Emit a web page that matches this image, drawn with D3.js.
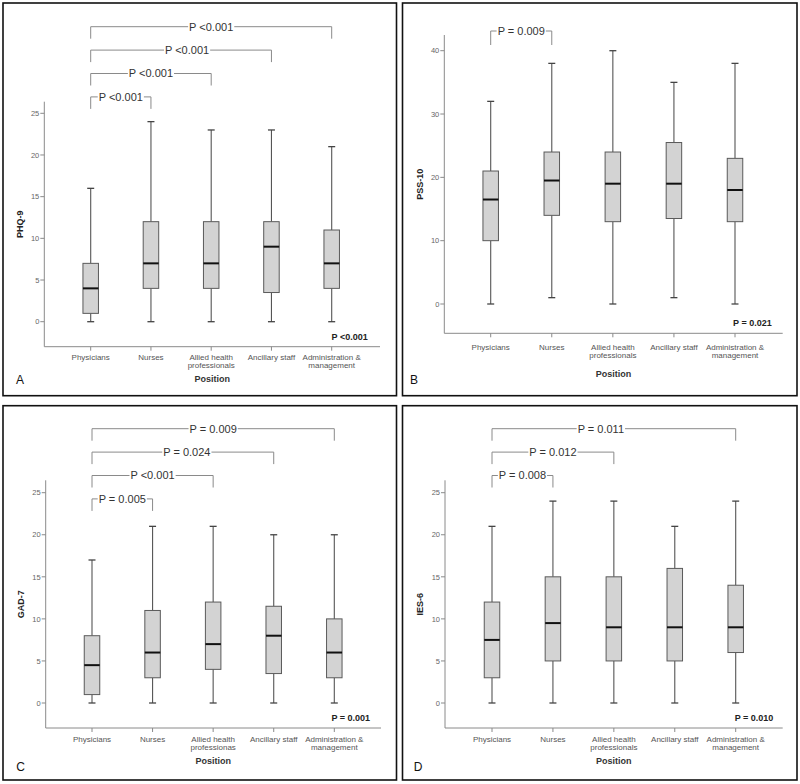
<!DOCTYPE html>
<html>
<head>
<meta charset="utf-8">
<script src="https://cdn.jsdelivr.net/npm/d3@7"></script>
<style>
html,body{margin:0;padding:0;background:#fff;}
svg{display:block;font-family:"Liberation Sans",Arial,sans-serif;}
</style>
</head>
<body>
<svg id="chart" width="800" height="784"></svg>
<script>
// ---------- DATA ----------
const categories = ["Physicians","Nurses","Allied health professionals","Ancillary staff","Administration & management"];
const categoryLabels = [["Physicians"],["Nurses"],["Allied health","professionals"],["Ancillary staff"],["Administration &","management"]];
const categoryLabelsC = [["Physicians"],["Nurses"],["Allied health","professionas"],["Ancillary staff"],["Administration &","management"]];

const phq9Min    = [0,0,0,0,0];
const phq9Q1     = [1,4,4,3.5,4];
const phq9Median = [4,7,7,9,7];
const phq9Q3     = [7,12,12,12,11];
const phq9Max    = [16,24,23,23,21];
const phq9Ticks  = [0,5,10,15,20,25];
const phq9Compare  = ["Nurses","Allied health professionals","Ancillary staff","Administration & management"];
const phq9CompareP = ["P <0.001","P <0.001","P <0.001","P <0.001"];
const phq9Overall  = "P <0.001";

const pss10Min    = [0,1,0,1,0];
const pss10Q1     = [10,14,13,13.5,13];
const pss10Median = [16.5,19.5,19,19,18];
const pss10Q3     = [21,24,24,25.5,23];
const pss10Max    = [32,38,40,35,38];
const pss10Ticks  = [0,10,20,30,40];
const pss10Compare  = ["Nurses"];
const pss10CompareP = ["P = 0.009"];
const pss10Overall  = "P = 0.021";

const gad7Min    = [0,0,0,0,0];
const gad7Q1     = [1,3,4,3.5,3];
const gad7Median = [4.5,6,7,8,6];
const gad7Q3     = [8,11,12,11.5,10];
const gad7Max    = [17,21,21,20,20];
const gad7Ticks  = [0,5,10,15,20,25];
const gad7Compare  = ["Nurses","Allied health professionals","Ancillary staff","Administration & management"];
const gad7CompareP = ["P = 0.005","P <0.001","P = 0.024","P = 0.009"];
const gad7Overall  = "P = 0.001";

const ies6Min    = [0,0,0,0,0];
const ies6Q1     = [3,5,5,5,6];
const ies6Median = [7.5,9.5,9,9,9];
const ies6Q3     = [12,15,15,16,14];
const ies6Max    = [21,24,24,21,24];
const ies6Ticks  = [0,5,10,15,20,25];
const ies6Compare  = ["Nurses","Allied health professionals","Administration & management"];
const ies6CompareP = ["P = 0.008","P = 0.012","P = 0.011"];
const ies6Overall  = "P = 0.010";

const baseGroup = "Physicians";

// ---------- LAYOUT ----------
const panels = [
  {letter:"A", ylab:"PHQ-9", labels:categoryLabels,
   min:phq9Min,q1:phq9Q1,med:phq9Median,q3:phq9Q3,max:phq9Max,ticks:phq9Ticks,
   cmp:phq9Compare,cmpP:phq9CompareP,overall:phq9Overall,
   box:[3,3,396.5,395.7], ax:44.3, top:101.7, bottom:346.7, right:380,
   yv:[0,25], yp:[321.7,113.3], xr:[90.7,331.7], brTop:26.7, leg:12, brDx:[0,0,6,0],
   catDy:10, posDy:32.3, letterXY:[20,384], ylabX:20, pX:367.7},
  {letter:"B", ylab:"PSS-10", labels:categoryLabels,
   min:pss10Min,q1:pss10Q1,med:pss10Median,q3:pss10Q3,max:pss10Max,ticks:pss10Ticks,
   cmp:pss10Compare,cmpP:pss10CompareP,overall:pss10Overall,
   box:[402.5,3,797,395.7], ax:444.3, top:35, bottom:333.3, right:782.7,
   yv:[0,40], yp:[304,50.7], xr:[490.7,735], brTop:31, leg:14, brDx:[0],
   catDy:13.4, posDy:40, letterXY:[414,384], ylabX:420, pX:771.7},
  {letter:"C", ylab:"GAD-7", labels:categoryLabelsC,
   min:gad7Min,q1:gad7Q1,med:gad7Median,q3:gad7Q3,max:gad7Max,ticks:gad7Ticks,
   cmp:gad7Compare,cmpP:gad7CompareP,overall:gad7Overall,
   box:[3,405.7,396.5,780], ax:45.7, top:480.3, bottom:728, right:381,
   yv:[0,25], yp:[703,492.7], xr:[92,334.3], brTop:428.7, leg:12, brDx:[0,0,4,0],
   catDy:10.7, posDy:33, letterXY:[20.7,771], ylabX:20.7, pX:370},
  {letter:"D", ylab:"IES-6", labels:categoryLabels,
   min:ies6Min,q1:ies6Q1,med:ies6Median,q3:ies6Q3,max:ies6Max,ticks:ies6Ticks,
   cmp:ies6Compare,cmpP:ies6CompareP,overall:ies6Overall,
   box:[402.5,405.7,797,780], ax:445, top:480.3, bottom:728, right:782.7,
   yv:[0,25], yp:[703,492.7], xr:[492,735.7], brTop:428.7, leg:12, brDx:[0,0,-13],
   catDy:10.7, posDy:33, letterXY:[418,771], ylabX:420, pX:773.3}
];

const svg = d3.select("#chart");
const axisColor = "#8a8a8a", tickText = "#666";
const boxW = 15.5, capW = 7, brStep = 23.4;

panels.forEach(p => {
  const g = svg.append("g");
  g.append("rect").attr("x",p.box[0]).attr("y",p.box[1])
    .attr("width",p.box[2]-p.box[0]).attr("height",p.box[3]-p.box[1])
    .attr("fill","none").attr("stroke","#111").attr("stroke-width",1.6);

  const x = d3.scalePoint().domain(categories).range(p.xr);
  const y = d3.scaleLinear().domain(p.yv).range(p.yp);

  g.append("path").attr("d",`M${p.ax},${p.top}V${p.bottom}H${p.right}`)
    .attr("fill","none").attr("stroke",axisColor).attr("stroke-width",1);
  p.ticks.forEach(t => {
    g.append("line").attr("x1",p.ax-4).attr("x2",p.ax).attr("y1",y(t)).attr("y2",y(t))
      .attr("stroke",axisColor);
    g.append("text").attr("x",p.ax-5).attr("y",y(t)+2.7).attr("text-anchor","end")
      .attr("font-size",7.5).attr("fill",tickText).text(t);
  });
  categories.forEach((c,i) => {
    const cx = x(c);
    g.append("line").attr("x1",cx).attr("x2",cx).attr("y1",p.bottom).attr("y2",p.bottom+4)
      .attr("stroke",axisColor);
    p.labels[i].forEach((ln,j) => {
      g.append("text").attr("x",cx).attr("y",p.bottom+p.catDy+2.9+j*8.3)
        .attr("text-anchor","middle").attr("font-size",8).attr("fill","#555").text(ln);
    });
  });
  g.append("text").attr("x",(p.ax+p.right)/2).attr("y",p.bottom+p.posDy+3.2)
    .attr("text-anchor","middle").attr("font-size",9).attr("font-weight","bold").attr("fill","#333")
    .text("Position");
  const ymid = (p.top+p.bottom)/2;
  g.append("text").attr("transform",`translate(${p.ylabX+3.2},${ymid}) rotate(-90)`)
    .attr("text-anchor","middle").attr("font-size",9).attr("font-weight","bold").attr("fill","#222")
    .text(p.ylab);
  g.append("text").attr("x",p.letterXY[0]).attr("y",p.letterXY[1])
    .attr("text-anchor","middle").attr("font-size",12).attr("fill","#111").text(p.letter);
  g.append("text").attr("x",p.pX).attr("y",p.bottom-7).attr("text-anchor","end")
    .attr("font-size",9).attr("font-weight","bold").attr("fill","#222").text(p.overall);

  categories.forEach((c,i) => {
    const cx = x(c);
    const wc = "#555";
    g.append("line").attr("x1",cx).attr("x2",cx).attr("y1",y(p.max[i])).attr("y2",y(p.q3[i])).attr("stroke",wc).attr("stroke-width",1.1);
    g.append("line").attr("x1",cx).attr("x2",cx).attr("y1",y(p.q1[i])).attr("y2",y(p.min[i])).attr("stroke",wc).attr("stroke-width",1.1);
    g.append("line").attr("x1",cx-capW/2).attr("x2",cx+capW/2).attr("y1",y(p.max[i])).attr("y2",y(p.max[i])).attr("stroke","#444").attr("stroke-width",1.3);
    g.append("line").attr("x1",cx-capW/2).attr("x2",cx+capW/2).attr("y1",y(p.min[i])).attr("y2",y(p.min[i])).attr("stroke","#444").attr("stroke-width",1.3);
    g.append("rect").attr("x",cx-boxW/2).attr("y",y(p.q3[i])).attr("width",boxW)
      .attr("height",y(p.q1[i])-y(p.q3[i])).attr("fill","#d3d3d3").attr("stroke","#5a5a5a").attr("stroke-width",1);
    g.append("line").attr("x1",cx-boxW/2).attr("x2",cx+boxW/2).attr("y1",y(p.med[i])).attr("y2",y(p.med[i]))
      .attr("stroke","#111").attr("stroke-width",2);
  });

  const n = p.cmp.length;
  p.cmp.forEach((c,i) => {
    const ly = p.brTop + (n-1-i)*brStep;
    const x1 = x(baseGroup), x2 = x(c);
    const mid = (x1+x2)/2 + (p.brDx[i]||0);
    const t = g.append("text").attr("x",mid).attr("y",ly+3.9).attr("text-anchor","middle")
      .attr("font-size",11).attr("fill","#333").text(p.cmpP[i]);
    const w = t.node().getComputedTextLength();
    const bc = "#8a8a8a";
    g.append("path").attr("d",`M${x1},${ly+p.leg}V${ly}H${mid-w/2-1}`).attr("fill","none").attr("stroke",bc);
    g.append("path").attr("d",`M${mid+w/2+1},${ly}H${x2}V${ly+p.leg}`).attr("fill","none").attr("stroke",bc);
  });
});
</script>
</body>
</html>
